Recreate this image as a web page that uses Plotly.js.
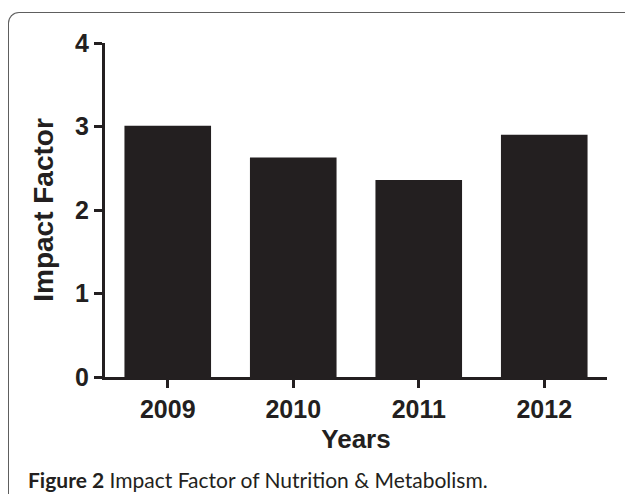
<!DOCTYPE html>
<html>
<head>
<meta charset="utf-8">
<script src="https://cdn.plot.ly/plotly-3.0.1.min.js"></script>
<style>
  html, body { margin: 0; padding: 0; background: #fff; }
  #wrap { position: relative; width: 625px; height: 494px; overflow: hidden; }
  #frame { position: absolute; left: 8px; top: 12px; width: 640px; height: 520px;
           border-left: 1.5px solid #5e5e5e; border-top: 1.5px solid #5e5e5e;
           border-top-left-radius: 11px; }
  #chart { position: absolute; left: 0; top: 0; width: 625px; height: 494px; }
</style>
</head>
<body>
<div id="wrap">
  <div id="frame"></div>
  <div id="chart"></div>
</div>
<script>
const years = ["2009", "2010", "2011", "2012"];
const impactFactor = [3.01, 2.63, 2.36, 2.90];
const yTicks = [0, 1, 2, 3, 4];
const xTitle = "Years";
const yTitle = "Impact Factor";
const caption = "<b>Figure 2</b> Impact Factor of Nutrition &amp; Metabolism.";

const ink = "#231f20";
const axisFont = { family: "Liberation Sans, Arial, sans-serif", size: 25, color: ink, weight: "bold" };

const data = [{
  type: "bar",
  x: years,
  y: impactFactor,
  width: 0.69,
  marker: { color: ink, line: { width: 0 } },
  hoverinfo: "x+y"
}];

const layout = {
  width: 625,
  height: 494,
  margin: { l: 105, r: 18, t: 43, b: 117 },
  paper_bgcolor: "rgba(0,0,0,0)",
  plot_bgcolor: "rgba(0,0,0,0)",
  showlegend: false,
  bargap: 0.31,
  xaxis: {
    type: "category",
    range: [-0.5, 3.5],
    showline: true, linecolor: ink, linewidth: 3,
    ticks: "outside", ticklen: 8, tickwidth: 3, tickcolor: ink,
    tickfont: axisFont,
    showgrid: false, zeroline: false,
    title: { text: "<b>" + xTitle + "</b>", font: { family: axisFont.family, size: 26, color: ink }, standoff: 8 }
  },
  yaxis: {
    range: [0, 4],
    tickvals: yTicks,
    ticktext: yTicks.map(String),
    showline: true, linecolor: ink, linewidth: 3,
    ticks: "outside", ticklen: 8, tickwidth: 3, tickcolor: ink,
    tickfont: axisFont,
    showgrid: false, zeroline: false,
    title: { text: "<b>" + yTitle + "</b>", font: { family: axisFont.family, size: 28, color: ink }, standoff: 14 }
  },
  annotations: [{
    text: caption,
    xref: "paper", yref: "paper",
    x: -0.157, y: -0.262,
    xanchor: "left", yanchor: "top",
    showarrow: false,
    align: "left",
    font: { family: "Lato, 'Open Sans', sans-serif", size: 21, color: ink }
  }]
};

Plotly.newPlot("chart", data, layout, { displayModeBar: false, staticPlot: true });
</script>
</body>
</html>
